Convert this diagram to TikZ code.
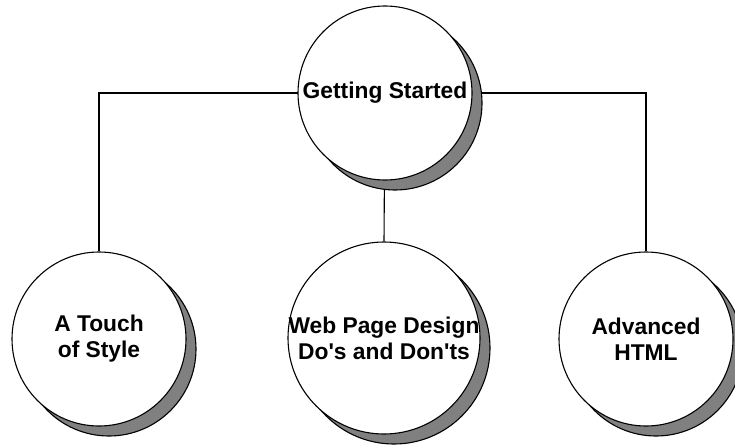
\documentclass[tikz,border=0pt]{standalone}
\usepackage{fontspec}
\setmainfont{Liberation Sans}
\usetikzlibrary{positioning,shapes,shadows}
\pgfdeclarelayer{bg}
\pgfsetlayers{bg,main}

\begin{document}
\begin{tikzpicture}[x = 1pt, y = -1pt,
    topic/.style = {circle, draw, fill = white, line width = 1.1pt, inner sep = 0pt,
      minimum size = 174pt,
      drop shadow = {shadow xshift = 10pt, shadow yshift = -10pt, fill = gray,
        draw = black, opacity = 1, line width = 1.1pt}},
    caption/.style = {font = \fontsize{22.8}{26}\selectfont\bfseries, align = center}]
  \useasboundingbox (0,0) rectangle (735,444);
    \node[topic] (start) at (385,93) {};
    \node[topic] (touch) at (99,339) {};
    \node[topic, minimum size = 192pt] (design) at (384,338) {};
    \node[topic] (adv) at (646,339) {};
    % Connectors
    \begin{pgfonlayer}{bg}
      \draw[line width = 1.1pt] (touch.north) |- (start.center) -| (adv.north);
      \draw[line width = 1.1pt] (start.center) -- (design.north);
    \end{pgfonlayer}
    % Labels
    \node[caption] (startlbl) at (start) {Getting Started};
    \node[caption] (touchlbl) at (touch) {A Touch\\of Style};
    \node[caption] (designlbl) at (design) {Web Page Design\\Do\textquotesingle s and Don\textquotesingle ts};
    \node[caption] (advlbl) at (adv) {Advanced\\HTML};
  \end{tikzpicture}
\end{document}
